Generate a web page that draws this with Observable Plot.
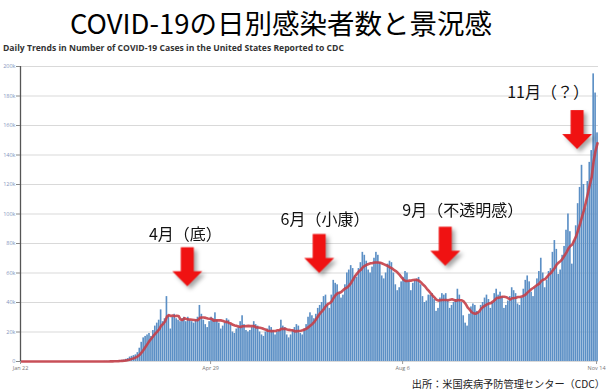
<!DOCTYPE html>
<html>
<head>
<meta charset="utf-8">
<script src="https://cdn.jsdelivr.net/npm/d3@7"></script>
<script src="https://cdn.jsdelivr.net/npm/@observablehq/plot@0.6"></script>
<style>
  html, body { margin: 0; padding: 0; background: #fff; width: 610px; height: 392px; overflow: hidden; }
  #title { width: 562px; height: 40px; line-height: 44px; text-align: center; font-family: "Noto Sans CJK JP", sans-serif; font-size: 27.5px; color: #000; white-space: nowrap; }
  #subtitle { height: 18px; line-height: 16px; padding-left: 3px; font-family: "Open Sans", sans-serif; font-weight: 700; font-size: 8.6px; color: #333; white-space: nowrap; }
  #caption { height: 17px; line-height: 17px; text-align: right; padding-right: 5px; font-family: "Noto Sans CJK JP", sans-serif; font-size: 10.2px; color: #222; white-space: nowrap; }
  #chart svg { display: block; }
  #chart [aria-label="vector"] { filter: drop-shadow(3px 3px 2px rgba(0,0,0,0.35)); }
</style>
</head>
<body>
<div id="title">COVID-19の日別感染者数と景況感</div>
<div id="subtitle">Daily Trends in Number of COVID-19 Cases in the United States Reported to CDC</div>
<div id="chart"></div>
<div id="caption">出所：米国疾病予防管理センター（CDC）</div>
<script>
// Daily new cases (thousands), 2020
const jan = [0,0,0,0,0,0,0,0,0,0]; // Jan 22–31
const feb = [0,0,0,0,0,0,0,0,0,0,0,0,0,0,0,0,0,0,0,0,0,0,0,0,0,0,0,0,0];
const mar = [0,0,0,0,0.1,0.1,0.1,0.2,0.2,0.3,0.4,0.5,0.7,0.8,1.0,1.5,2.0,3.0,3.5,4,4.5,6,9,13,16,17,18,19,17,21,24];
const apr = [26,28,35,27,29,44,31,22,30,32,29,28,27,29,30,27,30,28,27,26,28,30,38,32,28,25,23,27,30,29];
const may = [33,28,26,22,24,26,29,28,25,20,19,22,23,27,31,25,21,20,21,23,27,25,24,20,18,17,20,22,24,23,21];
const jun = [18,20,21,28,24,23,18,16,18,21,23,25,24,19,18,22,25,30,33,31,29,32,36,38,40,44,45,38,36,45];
const jul = [55,53,52,47,43,45,52,60,62,65,63,58,57,63,67,74,72,68,62,60,64,70,74,72,67,58,56,60,66,68,67];
const aug = [60,52,48,50,54,57,61,60,54,48,53,55,56,57,52,44,40,41,45,45,46,42,34,36,43,46,45,46,41,36,38];
const sep = [40,42,49,45,40,31,26,24,32,37,39,38,34,33,38,40,43,45,42,36,40,46,49,45,47,44,36,38,41,44];
const oct = [50,48,46,39,38,43,49,55,58,54,47,44,50,56,61,70,60,50,55,61,63,74,82,76,59,62,72,78,89,100,88];
const nov = [66,82,92,107,118,133,120,104,122,135,143,195,182,155]; // Nov 1–14

const startDate = "2020-01-22";
const endDate = "2020-11-15";
const xTickDates = ["2020-01-22", "2020-04-29", "2020-08-06", "2020-11-14"];
const yTicks = [0, 20, 40, 60, 80, 100, 120, 140, 160, 180, 200];

// Annotations
const annTexts = ["4月（底）", "6月（小康）", "9月（不透明感）", "11月（？）"];
const annTextDates = ["2020-04-16", "2020-06-27", "2020-09-06", "2020-10-20"];
const annTextValues = [86, 96, 102, 182];
const arrowDates = ["2020-04-17", "2020-06-24", "2020-08-28", "2020-11-04"];
const arrowValues = [51, 60, 65, 144];

// Build table
const values = [].concat(jan, feb, mar, apr, may, jun, jul, aug, sep, oct, nov);
const start = new Date(startDate + "T00:00:00Z");
const table = values.map((v, i) => {
  const date = d3.utcDay.offset(start, i);
  return { date, mid: d3.utcHour.offset(date, 12), value: v };
});
const parse = s => new Date(s + "T00:00:00Z");
const textTable = annTexts.map((t, i) => ({ text: t, date: parse(annTextDates[i]), value: annTextValues[i] }));
const arrowTable = arrowDates.map((d, i) => ({ date: parse(d), value: arrowValues[i] }));

const blockArrow = {
  draw(ctx, l, r) {
    const sw = 6.5, hw = 15, hl = 15;
    ctx.moveTo(-sw, 0);
    ctx.lineTo(-sw, -(l - hl));
    ctx.lineTo(-hw, -(l - hl));
    ctx.lineTo(0, -l);
    ctx.lineTo(hw, -(l - hl));
    ctx.lineTo(sw, -(l - hl));
    ctx.lineTo(sw, 0);
    ctx.closePath();
  }
};

const chart = Plot.plot({
  width: 610,
  height: 317,
  marginTop: 8,
  marginBottom: 14,
  marginLeft: 20,
  marginRight: 12,
  style: { fontFamily: "Open Sans, sans-serif", background: "#fff" },
  x: { type: "utc", domain: [parse(startDate), parse(endDate)], label: null },
  y: { domain: [0, 200], label: null },
  marks: [
    Plot.gridY({ ticks: yTicks, stroke: "#d9d9d9", strokeOpacity: 1 }),
    Plot.rectY(table, { x: "date", y: "value", interval: d3.utcDay, fill: "#5b8fc5", insetLeft: 0.15, insetRight: 0.15 }),
    Plot.lineY(table, Plot.windowY({ k: 7, anchor: "end" }, { x: "mid", y: "value", stroke: "#c43f48", strokeWidth: 2.6, strokeOpacity: 0.9 })),
    Plot.ruleX([parse(startDate)], { stroke: "#555", strokeWidth: 1.3 }),
    Plot.axisY({ ticks: yTicks, tickFormat: d => d === 0 ? "0" : d + "k", tickSize: 4, tickPadding: 1, fontSize: 5.5, fill: "#7f95bd", stroke: "#888" }),
    Plot.axisX({ ticks: xTickDates.map(parse), tickFormat: d3.utcFormat("%b %-d"), tickSize: 3, tickPadding: 2, fontSize: 5.5, fill: "#777", stroke: "#999" }),
    Plot.vector(arrowTable, { x: "date", y: "value", length: 39, rotate: 180, anchor: "end", shape: blockArrow, fill: "#f01212", stroke: "none" }),
    Plot.text(textTable, { x: "date", y: "value", text: "text", fontSize: 16, fill: "#111", fontFamily: "Noto Sans CJK JP" })
  ]
});
document.getElementById("chart").appendChild(chart);
</script>
</body>
</html>
